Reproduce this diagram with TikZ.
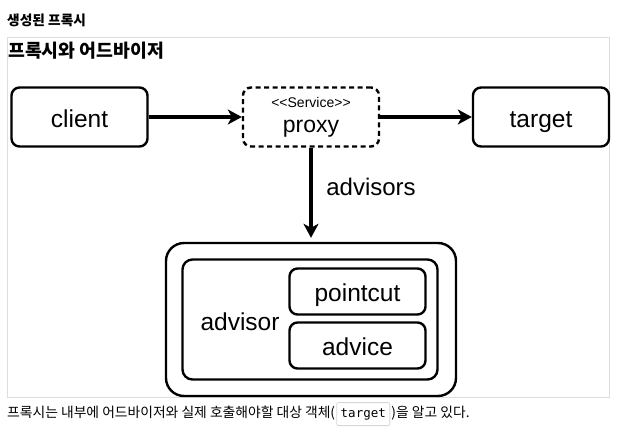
\documentclass[tikz,border=0pt]{standalone}
\usepackage{fontspec}
\setmainfont{Liberation Sans}
\setmonofont{DejaVu Sans Mono}
\newfontfamily\krfont{Noto Sans CJK KR}
\usetikzlibrary{arrows.meta, positioning}
\definecolor{framegray}{HTML}{DDDDDD}
\definecolor{codegray}{HTML}{D6D6D6}
\tikzset{
	plainbox/.style={rectangle, rounded corners=8pt, draw=black, line width=2.4pt,
		minimum width=136pt, minimum height=59pt, inner sep=0pt, align=center,
		font=\fontsize{24.5}{26}\selectfont},
	box/.style={plainbox, text height=24pt, text depth=4pt},
	proxybox/.style={plainbox, dashed, dash pattern=on 5pt off 3.5pt},
	smallbox/.style={box, minimum height=46pt},
	groupbox/.style={rectangle, draw=black, line width=2.4pt, inner sep=0pt},
	arrow/.style={-{Stealth[length=14pt, width=15pt, inset=4pt]}, line width=3.2pt},
	boxlabel/.style={font=\fontsize{24.5}{26}\selectfont, inner sep=0pt},
	krtext/.style={font=\krfont\fontsize{13.8}{16}\selectfont, inner sep=0pt},
	codebox/.style={rectangle, rounded corners=2pt, draw=codegray, line width=0.8pt,
		font=\ttfamily\fontsize{12.5}{14}\selectfont, inner xsep=4pt,
		minimum height=23pt, text depth=3pt}
}
\begin{document}
\begin{tikzpicture}[x=1pt, y=-1pt]
	\useasboundingbox (0,0) rectangle (622,429);
	% headings and frame
	\node[krtext, font=\krfont\bfseries\fontsize{13.7}{16}\selectfont, anchor=west] (heading) at (7,20) {생성된 프록시};
	\draw[framegray, line width=1pt] (7,37) rectangle (609,397);
	\node[krtext, font=\krfont\bfseries\fontsize{18.3}{21}\selectfont, anchor=west] (title) at (8,51) {프록시와 어드바이저};
	% top row
	\node[box] (client) at (79.5,117) {client};
	\node[proxybox] (proxy) at (311,117) {{\fontsize{14}{16}\selectfont <{}<Service>{}>}\\[-1pt]{\fontsize{23}{24}\selectfont proxy}};
	\node[box] (target) at (541,117) {target};
	\draw[arrow] (client) -- (proxy);
	\draw[arrow] (proxy) -- (target);
	% advisor group
	\node[groupbox, rounded corners=18pt, minimum width=290pt, minimum height=153pt] (outer) at (311,319.5) {};
	\node[groupbox, rounded corners=10pt, minimum width=255pt, minimum height=120pt] (inner) at (310,319.5) {};
	\node[smallbox] (pointcut) at (357.5,291.5) {pointcut};
	\node[smallbox] (advice) at (357.5,345.5) {advice};
	\node[boxlabel] (advisor) at (240,322) {advisor};
	\draw[arrow, shorten >=4pt] (proxy.south) -- (proxy.south |- outer.north);
	\node[boxlabel, font=\fontsize{24}{26}\selectfont] (advisors) at (371,187) {advisors};
	% caption
	\node[krtext, anchor=base west] (cap1) at (7,417) {프록시는 내부에 어드바이저와 실제 호출해야할 대상 객체(};
	\node[codebox, anchor=base west, xshift=1pt] (code) at (cap1.base east) {target};
	\node[krtext, anchor=base west, xshift=1pt] (cap2) at (code.base east) {)을 알고 있다.};
\end{tikzpicture}
\end{document}
